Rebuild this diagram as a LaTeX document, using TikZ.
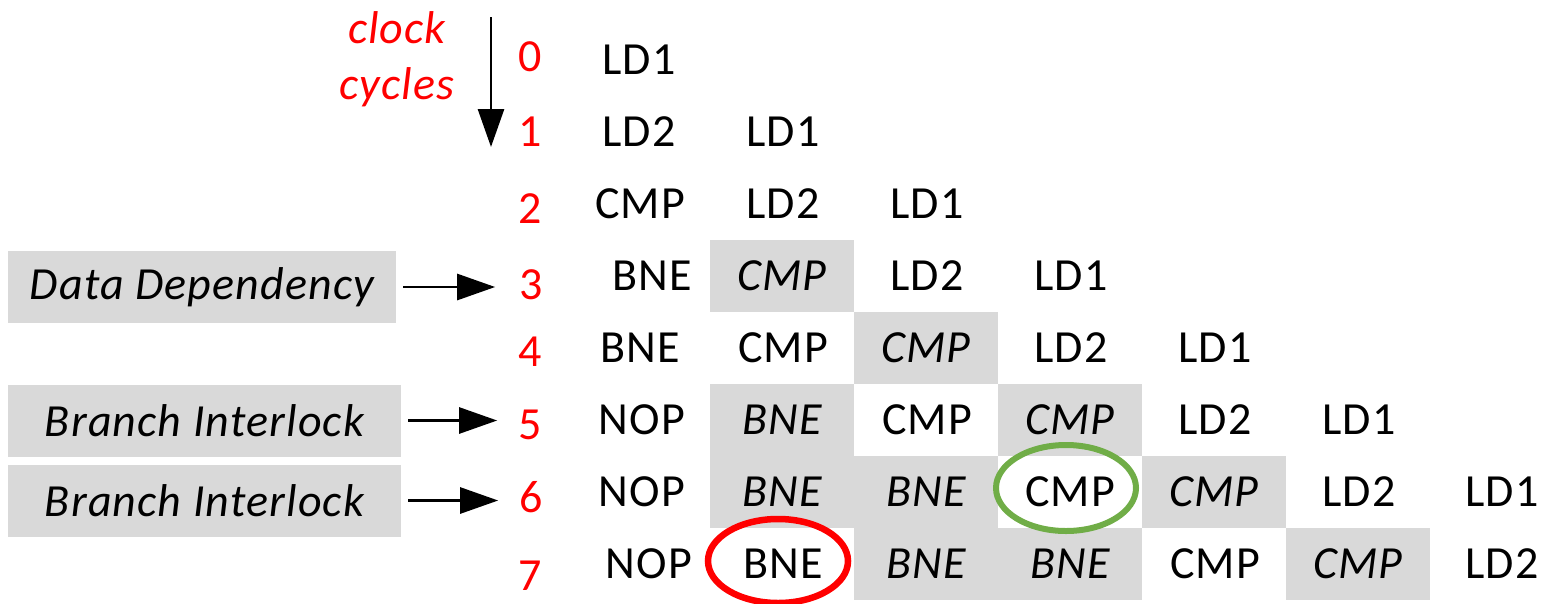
\documentclass[tikz,border=0pt]{standalone}
\usepackage{fontspec}
\setmainfont{Carlito}[LetterSpace=2.5]
\usetikzlibrary{arrows.meta}
\definecolor{cellgray}{HTML}{D9D9D9}
\definecolor{okgreen}{HTML}{70AD47}
\begin{document}
\begin{tikzpicture}[x=1pt,y=-1pt,
  every node/.style={font=\fontsize{46}{55}\selectfont},
  cell/.style={minimum width=144pt, minimum height=72pt, inner sep=0pt},
  hl/.style={cell, fill=cellgray, font=\fontsize{46}{55}\selectfont\itshape},
  num/.style={text=red, inner sep=0pt},
  lbl/.style={fill=cellgray, font=\fontsize{46}{55}\selectfont\itshape, inner sep=0pt, minimum height=72pt},
  arr/.style={line width=2.8pt, -{Triangle[length=38pt,width=26pt]}},
  clk/.style={text=red, font=\fontsize{46}{55}\selectfont\itshape, inner sep=0pt, anchor=base}]
\useasboundingbox (0,0) rectangle (1541,603);

% clock cycles label and arrow
\node[clk] (clk1) at (397,43) {clock};
\node[clk] (clk2) at (397,99) {cycles};
\coordinate (atop) at (491,17);
\coordinate (abot) at (491,147);
\draw[arr] (atop) -- (abot);

% row numbers
\node[num] (n0) at (530,57) {0};
\node[num] (n1) at (530,132) {1};
\node[num] (n2) at (530,209) {2};
\node[num] (n3) at (531,285) {3};
\node[num] (n4) at (530,352) {4};
\node[num] (n5) at (530,425) {5};
\node[num] (n6) at (531,497) {6};
\node[num] (n7) at (530,576) {7};

% row 0
\node[cell] (c00) at (639,60) {LD1};
% row 1
\node[cell] (c10) at (639,132) {LD2};
\node[cell] (c11) at (783,132) {LD1};
% row 2
\node[cell] (c20) at (640,204) {CMP};
\node[cell] (c21) at (783,204) {LD2};
\node[cell] (c22) at (927,204) {LD1};
% row 3
\node[cell] (c30) at (652,276) {BNE};
\node[hl]   (c31) at (782,276) {CMP};
\node[cell] (c32) at (927,276) {LD2};
\node[cell] (c33) at (1071,276) {LD1};
% row 4
\node[cell] (c40) at (640,348) {BNE};
\node[cell] (c41) at (783,348) {CMP};
\node[hl]   (c42) at (926,348) {CMP};
\node[cell] (c43) at (1071,348) {LD2};
\node[cell] (c44) at (1215,348) {LD1};
% row 5
\node[cell] (c50) at (642,420) {NOP};
\node[hl]   (c51) at (782,420) {BNE};
\node[cell] (c52) at (927,420) {CMP};
\node[hl]   (c53) at (1070,420) {CMP};
\node[cell] (c54) at (1215,420) {LD2};
\node[cell] (c55) at (1359,420) {LD1};
% row 6
\node[cell] (c60) at (642,492) {NOP};
\node[hl]   (c61) at (782,492) {BNE};
\node[hl]   (c62) at (926,492) {BNE};
\node[cell] (c63) at (1070,492) {CMP};
\node[hl]   (c64) at (1214,492) {CMP};
\node[cell] (c65) at (1359,492) {LD2};
\node[cell] (c66) at (1502,492) {LD1};
% row 7
\node[cell] (c70) at (649,564) {NOP};
\node[cell] (c71) at (783,564) {BNE};
\node[hl]   (c72) at (926,564) {BNE};
\node[hl]   (c73) at (1070,564) {BNE};
\node[cell] (c74) at (1215,564) {CMP};
\node[hl]   (c75) at (1358,564) {CMP};
\node[cell] (c76) at (1502,564) {LD2};

% highlight rings
\draw[okgreen, line width=6pt] ([xshift=-4pt,yshift=4pt]c63.center) ellipse [x radius=70pt, y radius=43pt];
\draw[red, line width=6.5pt] ([xshift=-5pt,yshift=3pt]c71.center) ellipse [x radius=70pt, y radius=42pt];

% left labels
\node[lbl, minimum width=388pt] (dd) at (202,287) {Data Dependency};
\node[lbl, minimum width=393pt] (bi1) at (204.5,420.5) {Branch Interlock};
\node[lbl, minimum width=393pt] (bi2) at (204.5,500.5) {Branch Interlock};

\draw[arr] ([xshift=7pt]dd.east) -- ([xshift=-24pt]dd.east -| n3.west);
\draw[arr] ([xshift=7pt]bi1.east) -- ([xshift=-21pt]bi1.east -| n5.west);
\draw[arr] ([xshift=7pt]bi2.east) -- ([xshift=-21pt]bi2.east -| n6.west);
\end{tikzpicture}
\end{document}
